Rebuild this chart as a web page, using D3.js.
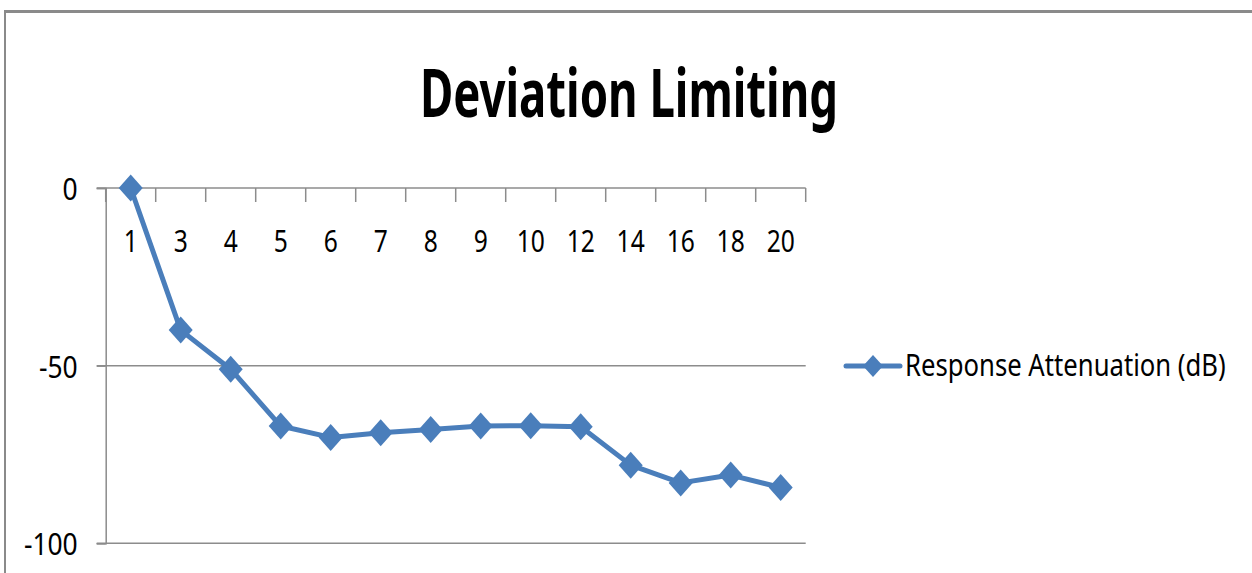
<!DOCTYPE html>
<html>
<head>
<meta charset="utf-8">
<script src="https://cdn.jsdelivr.net/npm/d3@7"></script>
<style>
  html, body { margin: 0; padding: 0; background: #fff; }
  svg { display: block; }
  text { font-family: "Noto Sans", "Open Sans", sans-serif; fill: #000; }
</style>
</head>
<body>
<svg id="chart" width="1252" height="573"></svg>
<script>
const categories = ["1", "3", "4", "5", "6", "7", "8", "9", "10", "12", "14", "16", "18", "20"];
const attenuation = [0, -40, -51, -67, -70.2, -68.9, -68, -67, -66.9, -67.2, -78, -83, -80.8, -84.3];
const yTicks = [0, -50, -100];
const seriesName = "Response Attenuation (dB)";
const titleText = "Deviation Limiting";

const W = 1252, H = 573;
const plotLeft = 105.7, plotRight = 805.7, plotTop = 188, plotBottom = 543.3;
const blue = "#4A7EBB";
const grid = "#8c8c8c";

const svg = d3.select("#chart");

// place a text at (px,py) squeezed horizontally to a given factor or width
function placeText(parent, str, px, py, size, anchor, opts) {
  const g = parent.append("g");
  const t = g.append("text").attr("x", 0).attr("y", 0).attr("font-size", size)
    .attr("text-anchor", anchor).text(str);
  if (opts.weight) t.attr("font-weight", opts.weight);
  const natural = t.node().getComputedTextLength();
  const f = opts.width ? opts.width / natural : opts.factor;
  g.attr("transform", `translate(${px},${py}) scale(${f},1)`);
  return g;
}

// frame
svg.append("line").attr("x1", 4).attr("x2", W).attr("y1", 11.5).attr("y2", 11.5)
  .attr("stroke", "#8a8a8a").attr("stroke-width", 3);
svg.append("line").attr("x1", 5).attr("x2", 5).attr("y1", 10).attr("y2", H)
  .attr("stroke", "#8a8a8a").attr("stroke-width", 2);

// title
placeText(svg, titleText, 629, 117, 66, "middle", { weight: "bold", width: 418 });

const x = d3.scaleBand().domain(categories).range([plotLeft, plotRight]);
const y = d3.scaleLinear().domain([-100, 0]).range([plotBottom, plotTop]);

// gridlines
svg.append("g").selectAll("line").data(yTicks).join("line")
  .attr("x1", plotLeft - 9).attr("x2", plotRight)
  .attr("y1", d => y(d)).attr("y2", d => y(d))
  .attr("stroke", grid).attr("stroke-width", 1.5);

// y axis
const yAxis = svg.append("g").attr("transform", `translate(${plotLeft},0)`)
  .call(d3.axisLeft(y).tickValues(yTicks).tickSize(9).tickPadding(19)
    .tickFormat(d => d < 0 ? "-" + Math.abs(d) : String(d)));
yAxis.select(".domain").attr("stroke", grid).attr("stroke-width", 1.5);
yAxis.selectAll(".tick line").attr("stroke", grid).attr("stroke-width", 1.5);
const yf = 0.88;
yAxis.selectAll(".tick text").attr("font-size", 30).attr("fill", "#000")
  .attr("dy", "0.38em").attr("x", -28 / yf).attr("transform", `scale(${yf},1)`);

// x axis: ticks at band boundaries
const bounds = categories.map(c => x(c)).concat([plotRight]);
svg.append("g").selectAll("line").data(bounds).join("line")
  .attr("x1", d => d).attr("x2", d => d).attr("y1", y(0)).attr("y2", y(0) + 14)
  .attr("stroke", grid).attr("stroke-width", 1.5);

const xf = 0.82;
svg.append("g").selectAll("text").data(categories).join("text")
  .attr("x", d => (x(d) + x.bandwidth() / 2) / xf).attr("y", 252)
  .attr("transform", `scale(${xf},1)`)
  .attr("text-anchor", "middle").attr("font-size", 30).text(d => d);

// line
const line = d3.line().x((d, i) => x(categories[i]) + x.bandwidth() / 2).y(d => y(d));
svg.append("path").datum(attenuation).attr("d", line)
  .attr("fill", "none").attr("stroke", blue).attr("stroke-width", 5).attr("stroke-linejoin", "round");

const diamond = "M0,-13.5L12,0L0,13.5L-12,0Z";
svg.append("g").selectAll("path").data(attenuation).join("path")
  .attr("transform", (d, i) => `translate(${x(categories[i]) + x.bandwidth() / 2},${y(d)})`)
  .attr("d", diamond).attr("fill", blue);

// legend
svg.append("line").attr("x1", 846).attr("x2", 900).attr("y1", 366).attr("y2", 366)
  .attr("stroke", blue).attr("stroke-width", 5).attr("stroke-linecap", "round");
svg.append("path").attr("transform", "translate(873,366)").attr("d", "M0,-11L10,0L0,11L-10,0Z").attr("fill", blue);
placeText(svg, seriesName, 905, 376, 30, "start", { width: 321 });
</script>
</body>
</html>
